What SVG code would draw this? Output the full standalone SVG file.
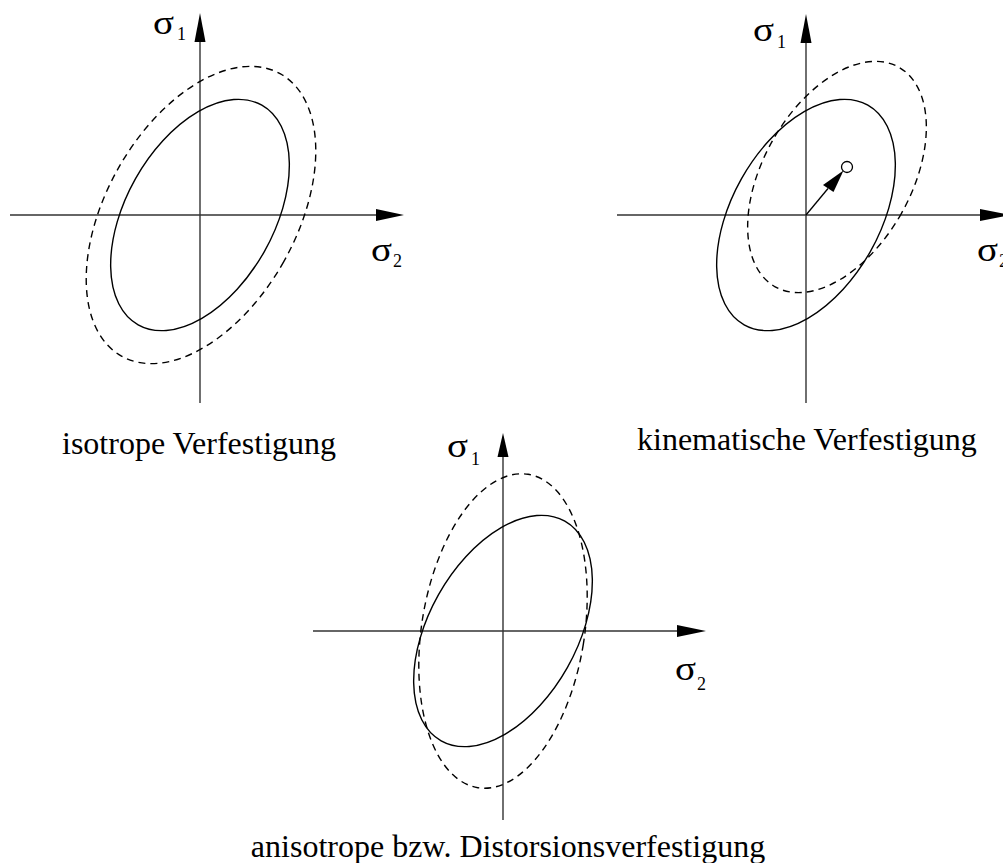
<svg xmlns="http://www.w3.org/2000/svg" width="1003" height="863" viewBox="0 0 1003 863">
<style>
.ax{stroke:#333;stroke-width:1.4;fill:none}
.ah{fill:#000;stroke:none}
.sol{stroke:#000;stroke-width:1.4;fill:none}
.dash{stroke:#000;stroke-width:1.4;fill:none;stroke-dasharray:7 5}
.sig{font-family:"Liberation Serif",serif;font-size:34px;fill:#000}
.sub{font-family:"Liberation Serif",serif;font-size:18px;fill:#000}
.cap{font-family:"Liberation Serif",serif;font-size:32px;fill:#000}
</style>
<rect width="1003" height="863" fill="#fff"/>
<g id="isotrope">
  <line class="ax" x1="200" y1="403" x2="200" y2="30"/>
  <polygon class="ah" points="200,13 194.5,42 205.5,42"/>
  <line class="ax" x1="10" y1="215" x2="385" y2="215"/>
  <polygon class="ah" points="404,215 376,209 376,221"/>
  <ellipse class="sol" cx="200" cy="215" rx="74" ry="126" transform="rotate(29.4 200 215)"/>
  <ellipse class="dash" cx="201" cy="215" rx="95" ry="162" transform="rotate(29.4 201 215)"/>
  <text class="sig" transform="translate(153 33.5) scale(1.15 1)">σ</text><text class="sub" x="177" y="40">1</text>
  <text class="sig" transform="translate(371 261) scale(1.15 1)">σ</text><text class="sub" x="393" y="267">2</text>
  <text class="cap" x="62" y="454">isotrope Verfestigung</text>
</g>
<g id="kinematische">
  <line class="ax" x1="806" y1="403" x2="806" y2="30"/>
  <polygon class="ah" points="806,14 800.5,43 811.5,43"/>
  <line class="ax" x1="617" y1="215" x2="990" y2="215"/>
  <polygon class="ah" points="1010,215 980,209 980,221"/>
  <ellipse class="sol" cx="806" cy="215" rx="74" ry="126" transform="rotate(29.4 806 215)"/>
  <ellipse class="dash" cx="837" cy="177" rx="74" ry="126" transform="rotate(29.4 837 177)"/>
  <circle cx="847" cy="167" r="5.5" fill="#fff" stroke="#000" stroke-width="1.3"/>
  <text class="sig" transform="translate(753 41) scale(1.15 1)">σ</text><text class="sub" x="777" y="48">1</text>
  <text class="sig" transform="translate(977 261) scale(1.15 1)">σ</text><text class="sub" x="999" y="267">2</text>
  <text class="cap" x="637" y="450">kinematische Verfestigung</text>
</g>
<g id="anisotrope">
  <line class="ax" x1="503" y1="820" x2="503" y2="450"/>
  <polygon class="ah" points="503,433 497.5,457 508.5,457"/>
  <line class="ax" x1="313" y1="631" x2="690" y2="631"/>
  <polygon class="ah" points="706,631 677,625 677,637"/>
  <ellipse class="sol" cx="503" cy="631" rx="74" ry="126" transform="rotate(29.4 503 631)"/>
  <ellipse class="dash" cx="503" cy="631" rx="81.4" ry="158.7" transform="rotate(9.1 503 631)"/>
  <text class="sig" transform="translate(447 457) scale(1.15 1)">σ</text><text class="sub" x="471" y="465">1</text>
  <text class="sig" transform="translate(675 680) scale(1.15 1)">σ</text><text class="sub" x="697" y="690">2</text>
  <text class="cap" x="508" y="857" text-anchor="middle">anisotrope bzw. Distorsionsverfestigung</text>
</g>
<g id="connectors">
  <line x1="806" y1="215" x2="828" y2="188.5" stroke="#000" stroke-width="1.3"/>
  <polygon class="ah" points="843.5,170.5 823,185 833.5,192"/>
</g>
</svg>
